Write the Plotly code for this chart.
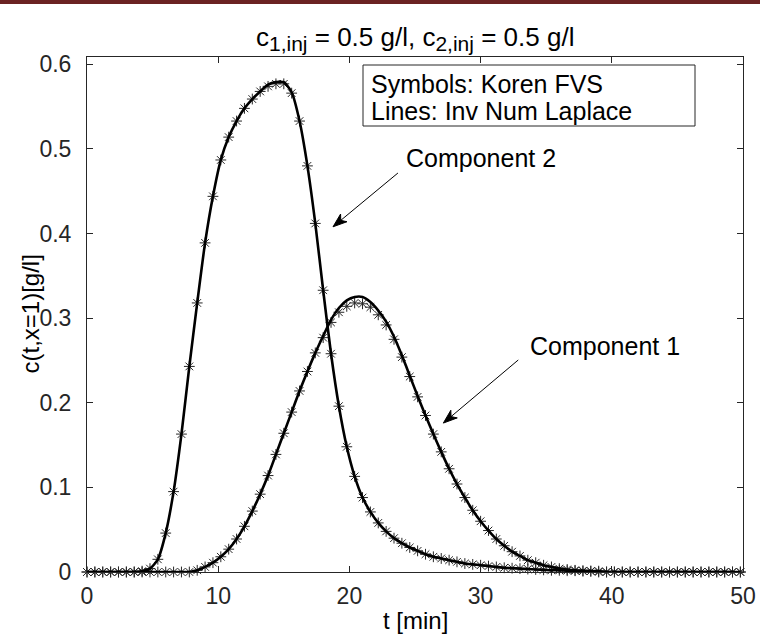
import math
import plotly.graph_objects as go

# ---- data ----
t_min = [0.0, 0.6, 1.2, 1.8, 2.4, 3.0, 3.6, 4.2, 4.8, 5.4, 6.0, 6.6, 7.2, 7.8,
         8.4, 9.0, 9.6, 10.2, 10.8, 11.4, 12.0, 12.6, 13.2, 13.8, 14.4, 15.0,
         15.6, 16.2, 16.8, 17.4, 18.0, 18.6, 19.2, 19.8, 20.4, 21.0, 21.6, 22.2,
         22.8, 23.4, 24.0, 24.6, 25.2, 25.8, 26.4, 27.0, 27.6, 28.2, 28.8, 29.4,
         30.0, 30.6, 31.2, 31.8, 32.4, 33.0, 33.6, 34.2, 34.8, 35.4, 36.0, 36.6,
         37.2, 37.8, 38.4, 39.0, 39.6, 40.2, 40.8, 41.4, 42.0, 42.6, 43.2, 43.8,
         44.4, 45.0, 45.6, 46.2, 46.8, 47.4, 48.0, 48.6, 49.2, 49.8]

# Component 2 - Koren FVS (symbols)
c2_fvs = [0, 0, 0, 0, 0, 0, 0, 0.001, 0.004, 0.015, 0.046, 0.095, 0.163, 0.243,
          0.318, 0.389, 0.444, 0.487, 0.514, 0.533, 0.548, 0.559, 0.568, 0.574,
          0.577, 0.577, 0.566, 0.533, 0.480, 0.412, 0.333, 0.258, 0.196, 0.148,
          0.113, 0.088, 0.071, 0.058, 0.048, 0.040, 0.034, 0.029, 0.025, 0.021,
          0.018, 0.016, 0.014, 0.012, 0.010, 0.009, 0.008, 0.007, 0.006, 0.005,
          0.0045, 0.004, 0.0035, 0.003, 0.0025, 0.002, 0.002, 0.0015, 0.0015,
          0.001, 0.001, 0.001, 0, 0, 0, 0, 0, 0, 0, 0, 0, 0, 0, 0, 0, 0, 0, 0, 0, 0]
# Component 2 - inverse numerical Laplace (line)
c2_lap = [0, 0, 0, 0, 0, 0, 0, 0.001, 0.004, 0.015, 0.046, 0.095, 0.163, 0.243,
          0.318, 0.389, 0.444, 0.487, 0.514, 0.533, 0.548, 0.559, 0.568, 0.576,
          0.579, 0.579, 0.567, 0.533, 0.480, 0.412, 0.333, 0.258, 0.196, 0.148,
          0.113, 0.088, 0.071, 0.058, 0.048, 0.040, 0.034, 0.029, 0.025, 0.021,
          0.018, 0.016, 0.014, 0.012, 0.010, 0.009, 0.008, 0.007, 0.006, 0.005,
          0.0045, 0.004, 0.0035, 0.003, 0.0025, 0.002, 0.002, 0.0015, 0.0015,
          0.001, 0.001, 0.001, 0, 0, 0, 0, 0, 0, 0, 0, 0, 0, 0, 0, 0, 0, 0, 0, 0]
# Component 1 - Koren FVS (symbols)
c1_fvs = [0, 0, 0, 0, 0, 0, 0, 0, 0, 0, 0, 0, 0, 0,
          0.002, 0.006, 0.011, 0.018, 0.027, 0.039, 0.054, 0.072, 0.092, 0.114,
          0.139, 0.164, 0.189, 0.214, 0.237, 0.259, 0.277, 0.295, 0.307, 0.314,
          0.318, 0.317, 0.313, 0.304, 0.292, 0.275, 0.254, 0.231, 0.207, 0.185,
          0.163, 0.142, 0.122, 0.104, 0.088, 0.073, 0.060, 0.049, 0.039, 0.031,
          0.024, 0.019, 0.014, 0.011, 0.008, 0.006, 0.004, 0.003, 0.002, 0.0015,
          0.001, 0, 0, 0, 0, 0, 0, 0, 0, 0, 0, 0, 0, 0, 0, 0, 0, 0, 0, 0]
# Component 1 - inverse numerical Laplace (line)
c1_lap = [0, 0, 0, 0, 0, 0, 0, 0, 0, 0, 0, 0, 0, 0,
          0.002, 0.006, 0.011, 0.018, 0.027, 0.039, 0.054, 0.072, 0.092, 0.114,
          0.139, 0.164, 0.189, 0.214, 0.237, 0.259, 0.279, 0.298, 0.312, 0.321,
          0.325, 0.325, 0.319, 0.309, 0.296, 0.278, 0.256, 0.232, 0.208, 0.185,
          0.163, 0.142, 0.122, 0.104, 0.088, 0.073, 0.060, 0.049, 0.039, 0.031,
          0.024, 0.019, 0.014, 0.011, 0.008, 0.006, 0.004, 0.003, 0.002, 0.0015,
          0.001, 0, 0, 0, 0, 0, 0, 0, 0, 0, 0, 0, 0, 0, 0, 0, 0, 0, 0, 0]

x_ticks = [0, 10, 20, 30, 40, 50]
y_ticks = [0, 0.1, 0.2, 0.3, 0.4, 0.5, 0.6]
y_tick_text = ["0", "0.1", "0.2", "0.3", "0.4", "0.5", "0.6"]

# ---- layout geometry (pixels) ----
W, H = 760, 643
L, R, T, B = 87, 17, 57, 71
PW, PH = W - L - R, H - T - B
X_MAX, Y_MAX = 50.0, 0.6087


def px(xp):
    return (xp - L) / PW


def py(yp):
    return (H - B - yp) / PH


def d2p(tx, cy):
    """data -> page pixels"""
    return L + tx / X_MAX * PW, H - B - cy / Y_MAX * PH


FONT = "Liberation Sans, Arial, Helvetica, sans-serif"
AX = "#262626"
MK = "#262626"

fig = go.Figure()
for yv in (c2_fvs, c1_fvs):
    fig.add_trace(go.Scatter(
        x=t_min, y=yv, mode="markers", cliponaxis=False,
        marker=dict(symbol="asterisk-open", size=9, color=MK,
                    line=dict(color=MK, width=1)),
        showlegend=False, hoverinfo="skip"))
for yv in (c2_lap, c1_lap):
    fig.add_trace(go.Scatter(
        x=t_min, y=yv, mode="lines",
        line=dict(color="black", width=2.6, shape="spline", smoothing=0.6),
        showlegend=False, hoverinfo="skip"))

fig.update_layout(
    width=W, height=H, autosize=False,
    margin=dict(l=L, r=R, t=T, b=B, autoexpand=False),
    paper_bgcolor="white", plot_bgcolor="white",
    font=dict(family=FONT, size=24, color=AX),
    xaxis=dict(range=[0, X_MAX], tickvals=x_ticks, ticks="inside", ticklen=6,
               tickcolor=AX, showline=True, linecolor=AX, linewidth=1,
               mirror="ticks", showgrid=False, zeroline=False,
               automargin=False, ticklabelstandoff=3,
               tickfont=dict(size=23, color=AX)),
    yaxis=dict(range=[0, Y_MAX], tickvals=y_ticks, ticktext=y_tick_text,
               ticks="inside", ticklen=6, tickcolor=AX, showline=True,
               linecolor=AX, linewidth=1, mirror="ticks", showgrid=False,
               zeroline=False, automargin=False, ticklabelstandoff=10,
               tickfont=dict(size=23, color=AX)),
)


def arrow_shapes(tail, head, length=14, half=5, notch=0.72):
    (x0, y0), (x1, y1) = d2p(*tail), d2p(*head)
    dx, dy = x1 - x0, y1 - y0
    n = math.hypot(dx, dy)
    ux, uy = dx / n, dy / n
    nx, ny = -uy, ux
    bx, by = x1 - ux * length, y1 - uy * length
    mx, my = x1 - ux * length * notch, y1 - uy * length * notch
    pts = [(x1, y1), (bx + nx * half, by + ny * half), (mx, my),
           (bx - nx * half, by - ny * half)]
    path = "M " + " L ".join(f"{px(a):.5f},{py(b):.5f}" for a, b in pts) + " Z"
    return [
        dict(type="line", xref="paper", yref="paper", x0=px(x0), y0=py(y0),
             x1=px(mx), y1=py(my), line=dict(color="black", width=1)),
        dict(type="path", xref="paper", yref="paper", path=path,
             fillcolor="black", line=dict(color="black", width=1)),
    ]


shapes = [
    # dark red band along the top edge
    dict(type="rect", xref="paper", yref="paper", x0=px(0), x1=px(W),
         y0=py(4), y1=py(0), fillcolor="#6b2222", line=dict(width=0),
         layer="above"),
    # text box outline
    dict(type="rect", xref="paper", yref="paper", x0=px(363), x1=px(695),
         y0=py(126), y1=py(65), fillcolor="white",
         line=dict(color=AX, width=1), layer="above"),
]
# arrows (tail, head) in data units
shapes += arrow_shapes((23.7, 0.4716), (18.75, 0.408))
shapes += arrow_shapes((32.87, 0.2506), (27.16, 0.176))
fig.update_layout(shapes=shapes)

TXT = dict(color="black", family=FONT, size=25)
ann = [
    dict(text="c<sub><span style='font-size:21px'>1,inj</span></sub> = 0.5 g/l, "
              "c<sub><span style='font-size:21px'>2,inj</span></sub> = 0.5 g/l",
         xref="paper", yref="paper", x=0.5, y=py(38), xanchor="center",
         yanchor="middle", showarrow=False,
         font=dict(size=26, color="black", family=FONT)),
    dict(text="t [min]", xref="paper", yref="paper", x=0.5, y=py(620),
         xanchor="center", yanchor="middle", showarrow=False,
         font=dict(size=24, color="black", family=FONT)),
    dict(text="c(t,x=1)[g/l]", xref="paper", yref="paper", x=px(30),
         y=0.5, xanchor="center", yanchor="middle", textangle=-90,
         showarrow=False, font=dict(size=24, color="black", family=FONT)),
    dict(text="Symbols: Koren FVS", xref="paper", yref="paper",
         x=px(369), y=py(84), xanchor="left", yanchor="middle",
         showarrow=False, font=TXT),
    dict(text="Lines: Inv Num Laplace", xref="paper", yref="paper",
         x=px(369), y=py(111), xanchor="left", yanchor="middle",
         showarrow=False, font=TXT),
    dict(text="Component 2", xref="paper", yref="paper",
         x=px(404), y=py(158), xanchor="left", yanchor="middle",
         showarrow=False, font=TXT),
    dict(text="Component 1", xref="paper", yref="paper",
         x=px(528), y=py(346), xanchor="left", yanchor="middle",
         showarrow=False, font=TXT),
]
fig.update_layout(annotations=ann)

fig.write_html(
    "out.html",
    config={"displayModeBar": False, "responsive": False},
    post_script=("document.body.style.margin='0';"
                 "document.documentElement.style.overflow='hidden';"
                 "document.body.style.overflow='hidden';"),
)
